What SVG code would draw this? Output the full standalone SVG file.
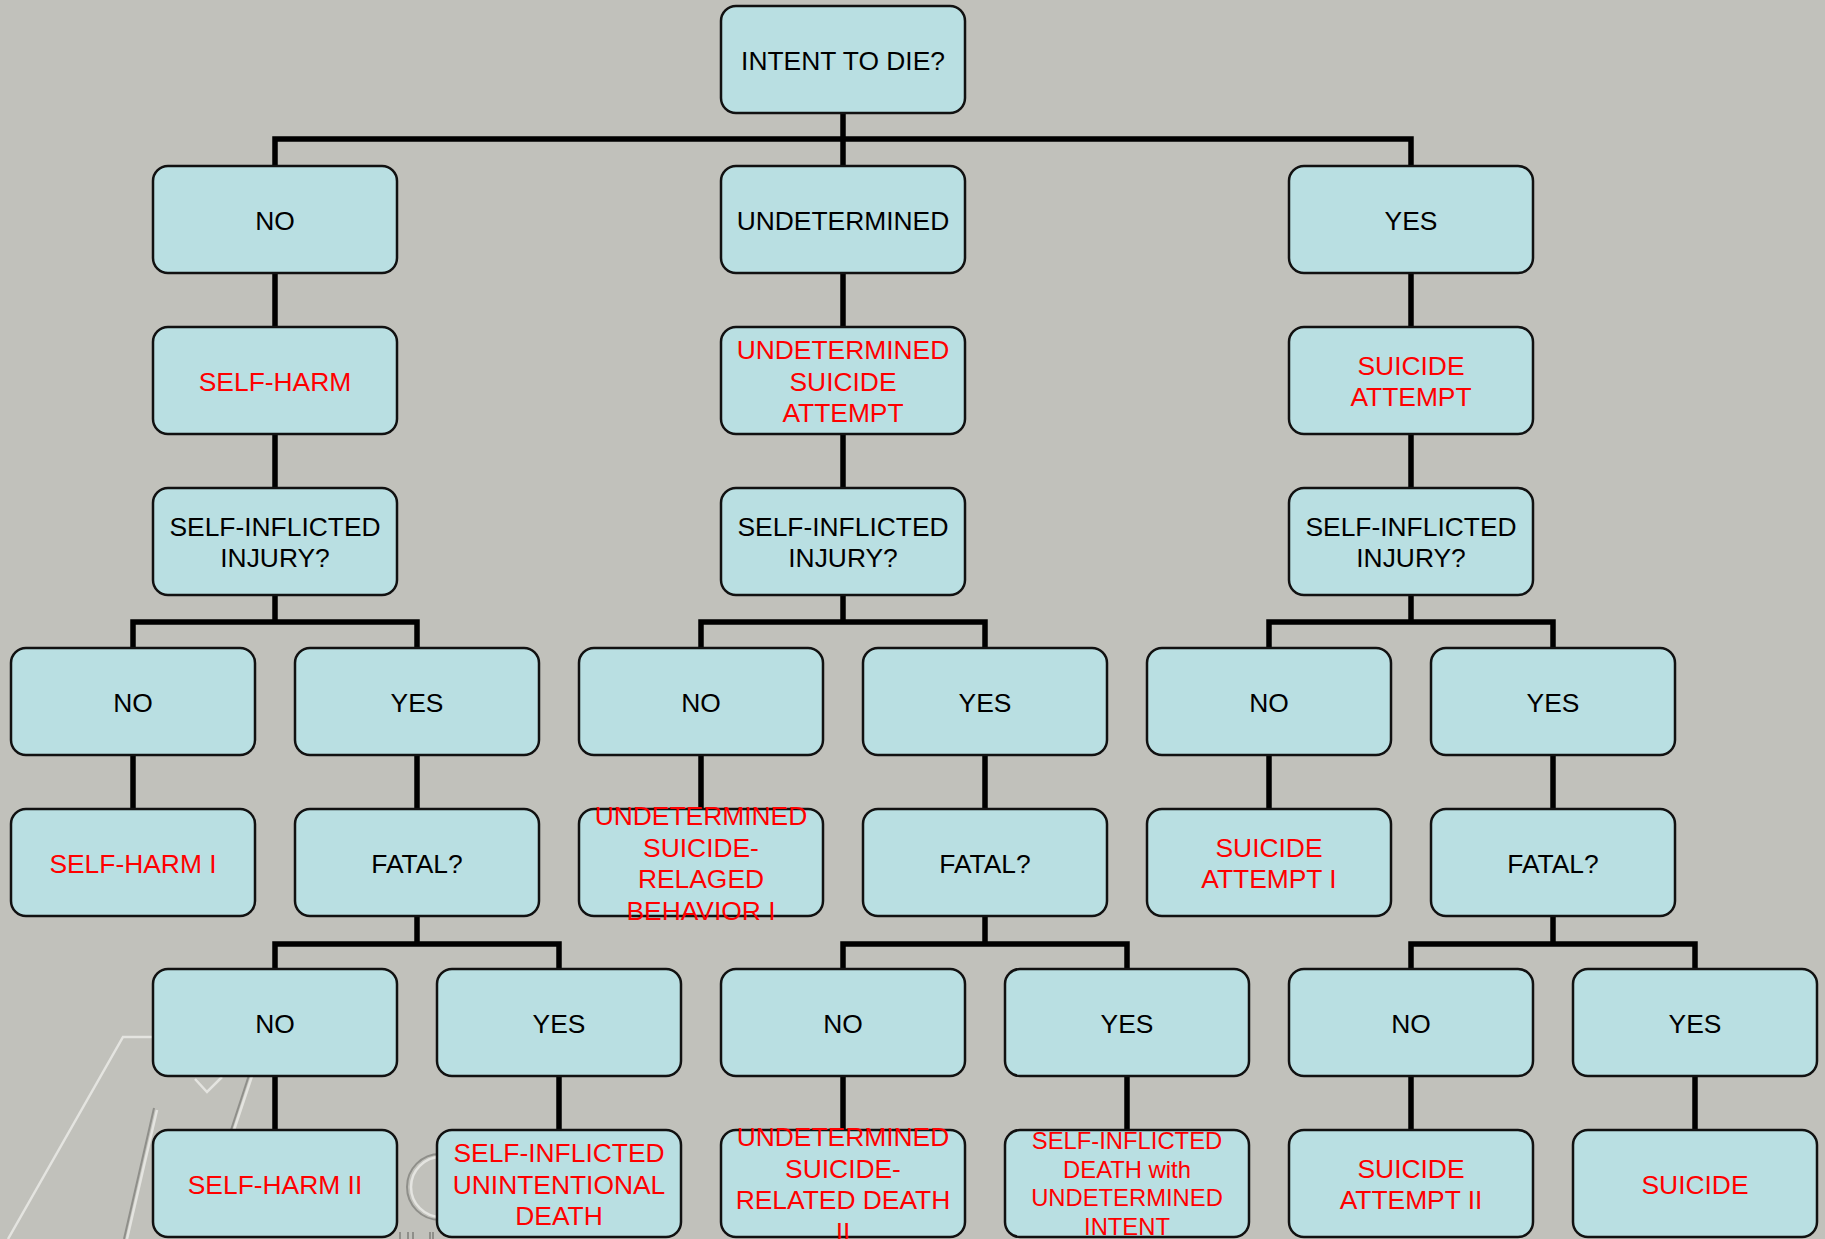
<svg xmlns="http://www.w3.org/2000/svg" width="1825" height="1239" viewBox="0 0 1825 1239">
<defs>
<style>
.bg{fill:#c1c1bb}
.box{fill:#b9dfe2;stroke:#111;stroke-width:2.5}
.t{font-family:"Liberation Sans",Arial,sans-serif;font-size:26.4px;text-anchor:middle;fill:#000}
.r{fill:#ff0000}
.s{font-size:23.8px}
.conn{fill:none;stroke:#000;stroke-width:5.5;stroke-linejoin:miter;stroke-linecap:butt}
.wmw{fill:none;stroke:#e4e4e0;stroke-width:2.5}
.wmd{fill:none;stroke:#8f8f8a;stroke-width:2}
</style>
</defs>
<rect class="bg" x="0" y="0" width="1825" height="1239"/>
<g id="watermark">
<path class="wmw" d="M8 1239 L123 1037 H170"/>
<path class="wmd" d="M124 1239 L154 1108"/>
<path class="wmw" d="M127 1239 L157 1110"/>
<path class="wmd" d="M231 1130 L249 1075"/>
<path class="wmw" d="M234 1130 L252 1076"/>
<path class="wmw" d="M195 1079 L207 1092 L222 1077"/>
<path class="wmd" d="M440 1154 A33 33 0 0 0 440 1220" stroke-width="3"/>
<path class="wmw" d="M441 1157 A30 30 0 0 0 441 1217" stroke-width="1.5"/>
<path class="wmd" d="M400 1232 V1239 M408 1232 V1239 M413 1232 V1239 M430 1232 V1239 M433 1232 V1239" stroke-width="1.2"/>
</g>
<g id="connectors">
<path class="conn" d="M843 113 V166 M275 166 V139 H1411 V166"/>
<path class="conn" d="M275 273 V327 M843 273 V327 M1411 273 V327"/>
<path class="conn" d="M275 434 V488 M843 434 V488 M1411 434 V488"/>
<path class="conn" d="M275 595 V622 M133 648 V622 H417 V648"/>
<path class="conn" d="M843 595 V622 M701 648 V622 H985 V648"/>
<path class="conn" d="M1411 595 V622 M1269 648 V622 H1553 V648"/>
<path class="conn" d="M133 755 V809 M417 755 V809 M701 755 V809 M985 755 V809 M1269 755 V809 M1553 755 V809"/>
<path class="conn" d="M417 916 V944 M275 969 V944 H559 V969"/>
<path class="conn" d="M985 916 V944 M843 969 V944 H1127 V969"/>
<path class="conn" d="M1553 916 V944 M1411 969 V944 H1695 V969"/>
<path class="conn" d="M275 1076 V1130 M559 1076 V1130 M843 1076 V1130 M1127 1076 V1130 M1411 1076 V1130 M1695 1076 V1130"/>
</g>
<g id="n-intent"><rect class="box" x="721" y="6" width="244" height="107" rx="15"/><text class="t" x="843" y="69.5">INTENT TO DIE?</text></g>
<g id="n-no1"><rect class="box" x="153" y="166" width="244" height="107" rx="15"/><text class="t" x="275" y="229.5">NO</text></g>
<g id="n-und1"><rect class="box" x="721" y="166" width="244" height="107" rx="15"/><text class="t" x="843" y="229.5">UNDETERMINED</text></g>
<g id="n-yes1"><rect class="box" x="1289" y="166" width="244" height="107" rx="15"/><text class="t" x="1411" y="229.5">YES</text></g>
<g id="n-selfharm"><rect class="box" x="153" y="327" width="244" height="107" rx="15"/><text class="t r" x="275" y="390.5">SELF-HARM</text></g>
<g id="n-usa"><rect class="box" x="721" y="327" width="244" height="107" rx="15"/><text class="t r" x="843" y="358.8">UNDETERMINED</text><text class="t r" x="843" y="390.5">SUICIDE</text><text class="t r" x="843" y="422.2">ATTEMPT</text></g>
<g id="n-sa"><rect class="box" x="1289" y="327" width="244" height="107" rx="15"/><text class="t r" x="1411" y="374.6">SUICIDE</text><text class="t r" x="1411" y="406.4">ATTEMPT</text></g>
<g id="n-sij1"><rect class="box" x="153" y="488" width="244" height="107" rx="15"/><text class="t" x="275" y="535.6">SELF-INFLICTED</text><text class="t" x="275" y="567.4">INJURY?</text></g>
<g id="n-sij2"><rect class="box" x="721" y="488" width="244" height="107" rx="15"/><text class="t" x="843" y="535.6">SELF-INFLICTED</text><text class="t" x="843" y="567.4">INJURY?</text></g>
<g id="n-sij3"><rect class="box" x="1289" y="488" width="244" height="107" rx="15"/><text class="t" x="1411" y="535.6">SELF-INFLICTED</text><text class="t" x="1411" y="567.4">INJURY?</text></g>
<g id="n-no4a"><rect class="box" x="11" y="648" width="244" height="107" rx="15"/><text class="t" x="133" y="711.5">NO</text></g>
<g id="n-yes4a"><rect class="box" x="295" y="648" width="244" height="107" rx="15"/><text class="t" x="417" y="711.5">YES</text></g>
<g id="n-no4b"><rect class="box" x="579" y="648" width="244" height="107" rx="15"/><text class="t" x="701" y="711.5">NO</text></g>
<g id="n-yes4b"><rect class="box" x="863" y="648" width="244" height="107" rx="15"/><text class="t" x="985" y="711.5">YES</text></g>
<g id="n-no4c"><rect class="box" x="1147" y="648" width="244" height="107" rx="15"/><text class="t" x="1269" y="711.5">NO</text></g>
<g id="n-yes4c"><rect class="box" x="1431" y="648" width="244" height="107" rx="15"/><text class="t" x="1553" y="711.5">YES</text></g>
<g id="n-sh1"><rect class="box" x="11" y="809" width="244" height="107" rx="15"/><text class="t r" x="133" y="872.5">SELF-HARM I</text></g>
<g id="n-fatal1"><rect class="box" x="295" y="809" width="244" height="107" rx="15"/><text class="t" x="417" y="872.5">FATAL?</text></g>
<g id="n-usrb"><rect class="box" x="579" y="809" width="244" height="107" rx="15"/><text class="t r" x="701" y="825">UNDETERMINED</text><text class="t r" x="701" y="856.6">SUICIDE-</text><text class="t r" x="701" y="888.4">RELAGED</text><text class="t r" x="701" y="920">BEHAVIOR I</text></g>
<g id="n-fatal2"><rect class="box" x="863" y="809" width="244" height="107" rx="15"/><text class="t" x="985" y="872.5">FATAL?</text></g>
<g id="n-sa1"><rect class="box" x="1147" y="809" width="244" height="107" rx="15"/><text class="t r" x="1269" y="856.6">SUICIDE</text><text class="t r" x="1269" y="888.4">ATTEMPT I</text></g>
<g id="n-fatal3"><rect class="box" x="1431" y="809" width="244" height="107" rx="15"/><text class="t" x="1553" y="872.5">FATAL?</text></g>
<g id="n-no6a"><rect class="box" x="153" y="969" width="244" height="107" rx="15"/><text class="t" x="275" y="1032.5">NO</text></g>
<g id="n-yes6a"><rect class="box" x="437" y="969" width="244" height="107" rx="15"/><text class="t" x="559" y="1032.5">YES</text></g>
<g id="n-no6b"><rect class="box" x="721" y="969" width="244" height="107" rx="15"/><text class="t" x="843" y="1032.5">NO</text></g>
<g id="n-yes6b"><rect class="box" x="1005" y="969" width="244" height="107" rx="15"/><text class="t" x="1127" y="1032.5">YES</text></g>
<g id="n-no6c"><rect class="box" x="1289" y="969" width="244" height="107" rx="15"/><text class="t" x="1411" y="1032.5">NO</text></g>
<g id="n-yes6c"><rect class="box" x="1573" y="969" width="244" height="107" rx="15"/><text class="t" x="1695" y="1032.5">YES</text></g>
<g id="n-sh2"><rect class="box" x="153" y="1130" width="244" height="107" rx="15"/><text class="t r" x="275" y="1193.5">SELF-HARM II</text></g>
<g id="n-siud"><rect class="box" x="437" y="1130" width="244" height="107" rx="15"/><text class="t r" x="559" y="1161.8">SELF-INFLICTED</text><text class="t r" x="559" y="1193.5">UNINTENTIONAL</text><text class="t r" x="559" y="1225.2">DEATH</text></g>
<g id="n-usrd"><rect class="box" x="721" y="1130" width="244" height="107" rx="15"/><text class="t r" x="843" y="1146">UNDETERMINED</text><text class="t r" x="843" y="1177.6">SUICIDE-</text><text class="t r" x="843" y="1209.4">RELATED DEATH</text><text class="t r" x="843" y="1241">II</text></g>
<g id="n-sidui"><rect class="box" x="1005" y="1130" width="244" height="107" rx="15"/><text class="t r s" x="1127" y="1149.3">SELF-INFLICTED</text><text class="t r s" x="1127" y="1177.8">DEATH with</text><text class="t r s" x="1127" y="1206.3">UNDETERMINED</text><text class="t r s" x="1127" y="1234.8">INTENT</text></g>
<g id="n-sa2"><rect class="box" x="1289" y="1130" width="244" height="107" rx="15"/><text class="t r" x="1411" y="1177.6">SUICIDE</text><text class="t r" x="1411" y="1209.4">ATTEMPT II</text></g>
<g id="n-suicide"><rect class="box" x="1573" y="1130" width="244" height="107" rx="15"/><text class="t r" x="1695" y="1193.5">SUICIDE</text></g>
</svg>
